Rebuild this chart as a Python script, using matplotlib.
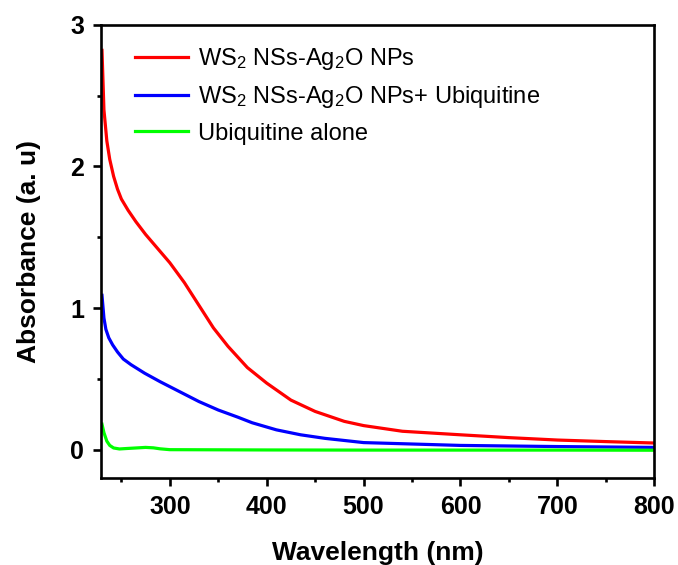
import matplotlib
matplotlib.use("Agg")
import matplotlib.pyplot as plt
from matplotlib.ticker import MultipleLocator

plt.rcParams['font.family'] = ['Liberation Sans', 'DejaVu Sans']
plt.rcParams['mathtext.default'] = 'regular'

# wavelength (nm) and absorbance
wl_red = [230, 232, 235, 238, 242, 246, 250, 257, 265, 275, 290, 300, 315, 330,
          345, 360, 380, 400, 425, 450, 480, 500, 540, 600, 650, 700, 750, 800]
abs_red = [2.82, 2.40, 2.18, 2.05, 1.93, 1.84, 1.77, 1.69, 1.61, 1.52, 1.40, 1.32,
           1.18, 1.02, 0.86, 0.73, 0.58, 0.47, 0.35, 0.27, 0.20, 0.17, 0.13,
           0.105, 0.085, 0.068, 0.057, 0.047]

wl_blue = [230, 232, 234, 237, 241, 246, 252, 260, 274, 290, 310, 330, 350, 370,
           385, 410, 435, 460, 500, 550, 600, 700, 800]
abs_blue = [1.09, 0.93, 0.85, 0.79, 0.74, 0.69, 0.64, 0.60, 0.54, 0.48, 0.41, 0.34,
            0.28, 0.23, 0.19, 0.14, 0.105, 0.08, 0.05, 0.04, 0.03, 0.022, 0.016]

wl_green = [230, 232, 235, 238, 242, 248, 255, 265, 275, 283, 290, 300, 400, 500,
            600, 700, 800]
abs_green = [0.18, 0.12, 0.06, 0.03, 0.012, 0.005, 0.008, 0.012, 0.016, 0.013,
             0.006, 0.0, -0.002, -0.003, -0.003, -0.003, -0.004]

labels = ['WS$_2$ NSs-Ag$_2$O NPs',
          'WS$_2$ NSs-Ag$_2$O NPs+ Ubiquitine',
          'Ubiquitine alone']

fig = plt.figure(figsize=(6.78, 5.65), dpi=100)
ax = fig.add_axes([0.149, 0.154, 0.816, 0.802])

ax.plot(wl_red, abs_red, color='#ff0000', lw=2.3, label=labels[0])
ax.plot(wl_blue, abs_blue, color='#0000ff', lw=2.3, label=labels[1])
ax.plot(wl_green, abs_green, color='#00ff00', lw=2.3, label=labels[2])

ax.set_xlim(229, 800)
ax.set_ylim(-0.2, 3)
ax.xaxis.set_major_locator(MultipleLocator(100))
ax.xaxis.set_minor_locator(MultipleLocator(50))
ax.yaxis.set_major_locator(MultipleLocator(1))
ax.yaxis.set_minor_locator(MultipleLocator(0.5))

for s in ax.spines.values():
    s.set_linewidth(1.9)
ax.tick_params(which='major', direction='out', length=6, width=1.9,
               labelsize=18, pad=6)
ax.tick_params(which='minor', direction='out', length=3, width=1.9)
for lab in ax.get_xticklabels() + ax.get_yticklabels():
    lab.set_fontweight('bold')

ax.set_xlabel('Wavelength (nm)', fontsize=19, fontweight='bold', labelpad=16)
ax.set_ylabel('Absorbance (a. u)', fontsize=19, fontweight='bold', labelpad=21)

ax.legend(loc='upper left', bbox_to_anchor=(0.062, 0.953), frameon=False,
          fontsize=17, handlelength=2.25, handletextpad=0.4,
          borderpad=0, borderaxespad=0, labelspacing=0.52)

fig.savefig('out.png', dpi=100)
